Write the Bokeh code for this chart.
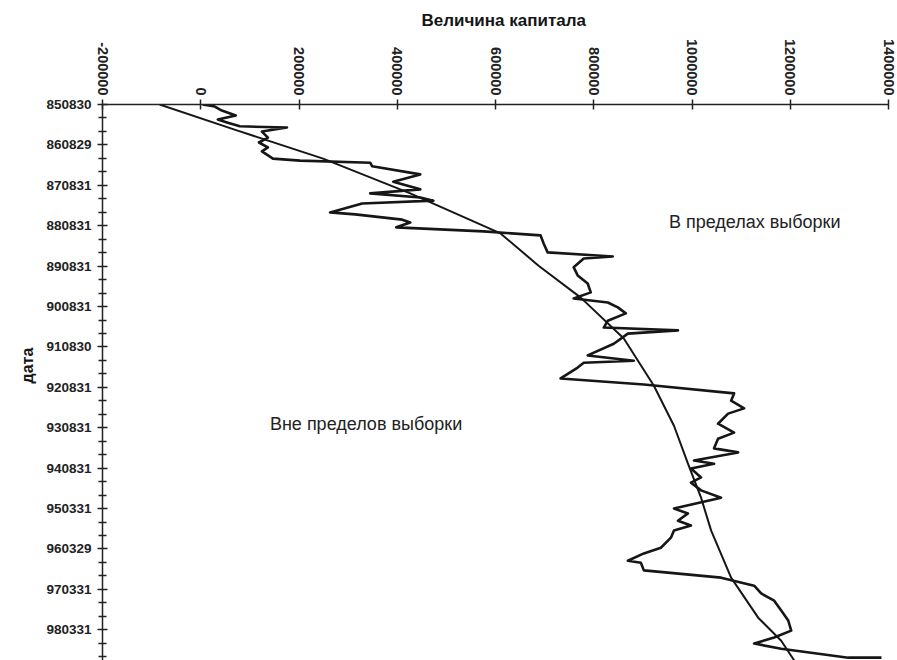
import math
from bokeh.plotting import figure
from bokeh.models import Range1d, FixedTicker, Label, Title
from bokeh.embed import file_html
from bokeh.resources import INLINE

# y position is the index of the labelled dates (0 = 850830, 1 = 860829, ...)
date_labels = ["850830", "860829", "870831", "880831", "890831", "900831", "910830",
               "920831", "930831", "940831", "950331", "960329", "970331", "980331"]
x_ticks = [-200000, 0, 200000, 400000, 600000, 800000, 1000000, 1200000, 1400000]

# equity curve ("Величина капитала")
equity_t = [0.00, 0.05, 0.15, 0.27, 0.37, 0.45, 0.54, 0.57, 0.67, 0.82, 0.94, 1.06, 1.16, 1.34,
            1.39, 1.44, 1.53, 1.73, 1.91, 2.10, 2.20, 2.30, 2.38, 2.45, 2.67, 2.72, 2.85, 2.92,
            3.04, 3.14, 3.24, 3.44, 3.66, 3.76, 3.81, 4.03, 4.23, 4.43, 4.65, 4.80, 4.90, 5.02,
            5.17, 5.35, 5.52, 5.59, 5.67, 5.92, 6.21, 6.34, 6.39, 6.51, 6.78, 6.93, 7.15, 7.33,
            7.52, 7.65, 7.90, 8.12, 8.27, 8.51, 8.61, 8.81, 8.89, 9.01, 9.23, 9.36, 9.55, 9.73,
            10.00, 10.12, 10.30, 10.42, 10.54, 10.72, 10.97, 11.11, 11.29, 11.34, 11.53, 11.71,
            11.91, 12.10, 12.28, 12.52, 12.77, 13.02, 13.19, 13.34, 13.47, 13.69, 13.69]
equity_c = [4000, 28600, 42900, 71400, 34700, 55100, 79600, 175500, 124500, 136700, 118400,
            136700, 124500, 146900, 202000, 344900, 349000, 446900, 391800, 446900, 344900,
            446900, 473500, 328600, 263300, 314300, 410200, 426500, 398000, 575500, 691800,
            698000, 706100, 838800, 779600, 759200, 767300, 787700, 793900, 759200, 828600,
            849000, 865300, 828600, 820400, 971400, 869400, 840800, 787700, 881600, 779600,
            767300, 732600, 902000, 1085700, 1079600, 1106100, 1073500, 1053000, 1085700,
            1053000, 1044900, 1093900, 1004100, 1044900, 998000, 1018400, 998000, 1018400,
            1059200, 963300, 991800, 971400, 998000, 963300, 957100, 936700, 902000, 869400,
            895900, 902000, 1059200, 1126500, 1140800, 1167300, 1181600, 1195900, 1202000,
            1167300, 1126500, 1181600, 1318300, 1385700]

# smooth fitted curve
trend_t = [0.00, 0.64, 1.34, 2.20, 3.19, 3.99, 4.78, 5.79, 6.96, 7.95, 8.89, 9.73,
           10.54, 11.71, 12.70, 13.27, 13.76]
trend_c = [-83700, 73500, 249000, 426500, 610200, 687700, 773500, 861200, 922400, 963300,
           991800, 1018400, 1038800, 1079600, 1134700, 1181600, 1208100]

FONT = "Liberation Sans"
INK = "#161616"

p = figure(width=897, height=660, output_backend="svg", toolbar_location=None,
           x_axis_location="above",
           x_range=Range1d(-200000, 1400000), y_range=Range1d(13.76, 0),
           min_border_left=102, min_border_top=104, min_border_right=9, min_border_bottom=0)
p.outline_line_color = None
p.xgrid.visible = False
p.ygrid.visible = False

p.title.text = "Величина капитала"
p.title.align = "left"
p.title.offset = 319
p.title.standoff = 13
p.title.text_font = FONT
p.title.text_font_style = "bold"
p.title.text_font_size = "17px"
p.title.text_color = INK

# y axis title as a side title on the left
p.add_layout(Title(text="дата", align="left", offset=277, standoff=16,
                   text_font=FONT, text_font_style="bold", text_font_size="16px",
                   text_color=INK), "left")

p.line(trend_c, trend_t, line_color=INK, line_width=2.0, line_join="round")
p.line(equity_c, equity_t, line_color=INK, line_width=2.6, line_join="round")

xa = p.xaxis[0]
xa.ticker = FixedTicker(ticks=x_ticks, minor_ticks=[])
xa.major_label_overrides = {v: str(v) for v in x_ticks}
xa.major_label_orientation = -math.pi / 2
xa.major_tick_in = 5
xa.major_tick_out = 5
xa.minor_tick_in = 0
xa.minor_tick_out = 0
xa.major_label_standoff = 4
xa.major_label_text_font = FONT
xa.major_label_text_font_style = "bold"
xa.major_label_text_font_size = "14.5px"
xa.major_label_text_color = "#222222"
xa.axis_line_color = "#222222"
xa.axis_line_width = 1.5
xa.major_tick_line_color = "#222222"
xa.major_tick_line_width = 1.5

ya = p.yaxis[0]
ya.ticker = FixedTicker(ticks=list(range(len(date_labels))),
                        minor_ticks=[i + f for i in range(len(date_labels)) for f in (1 / 3, 2 / 3)])
ya.major_label_overrides = {i: lab for i, lab in enumerate(date_labels)}
ya.major_tick_in = 5
ya.major_tick_out = 5
ya.minor_tick_in = 4
ya.minor_tick_out = 4
ya.major_label_standoff = 6
ya.major_label_text_font = FONT
ya.major_label_text_font_style = "bold"
ya.major_label_text_font_size = "13.5px"
ya.major_label_text_color = "#222222"
ya.axis_line_color = "#222222"
ya.axis_line_width = 1.5
ya.major_tick_line_color = "#222222"
ya.major_tick_line_width = 1.5
ya.minor_tick_line_color = "#222222"
ya.minor_tick_line_width = 1.5

p.add_layout(Label(x=953000, y=2.92, text="В пределах выборки", text_font=FONT,
                   text_font_size="18px", text_color="#222222", text_baseline="middle"))
p.add_layout(Label(x=140800, y=7.90, text="Вне пределов выборки", text_font=FONT,
                   text_font_size="18px", text_color="#222222", text_baseline="middle"))

open("out.html", "w").write(file_html(p, INLINE))
